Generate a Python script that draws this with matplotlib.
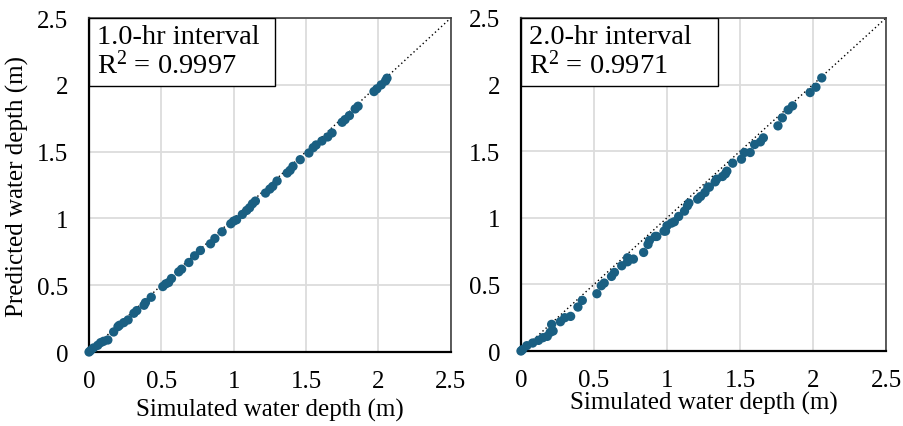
import numpy as np
import matplotlib
matplotlib.use("Agg")
import matplotlib.pyplot as plt
from matplotlib.patches import Rectangle

plt.rcParams['font.family'] = ['Liberation Serif', 'DejaVu Serif']
plt.rcParams['mathtext.fontset'] = 'custom'
plt.rcParams['mathtext.rm'] = 'Liberation Serif'
plt.rcParams['mathtext.it'] = 'Liberation Serif:italic'

# 1.0-hr interval: simulated vs predicted depth (m)
sim_1hr = [0.00, 0.01, 0.03, 0.06, 0.08, 0.10, 0.13, 0.17, 0.20, 0.21, 0.24, 0.27, 0.31,
           0.33, 0.38, 0.39, 0.43, 0.51, 0.53, 0.55, 0.57, 0.62, 0.64, 0.69, 0.73, 0.77,
           0.84, 0.87, 0.92, 0.98, 1.00, 1.02, 1.06, 1.09, 1.11, 1.13, 1.15, 1.22, 1.25,
           1.27, 1.30, 1.37, 1.39, 1.41, 1.46, 1.52, 1.55, 1.57, 1.61, 1.65, 1.68, 1.75,
           1.77, 1.80, 1.84, 1.86, 1.97, 1.99, 2.02, 2.05, 2.06]
pred_1hr = [0.00, 0.01, 0.03, 0.05, 0.07, 0.08, 0.09, 0.15, 0.19, 0.20, 0.22, 0.24, 0.29,
            0.31, 0.35, 0.37, 0.41, 0.49, 0.51, 0.52, 0.55, 0.60, 0.62, 0.67, 0.72, 0.76,
            0.81, 0.85, 0.90, 0.96, 0.98, 0.99, 1.03, 1.06, 1.08, 1.11, 1.13, 1.19, 1.22,
            1.24, 1.28, 1.34, 1.36, 1.39, 1.44, 1.49, 1.53, 1.55, 1.58, 1.61, 1.64, 1.72,
            1.74, 1.77, 1.82, 1.84, 1.95, 1.97, 2.00, 2.03, 2.05]

# 2.0-hr interval
sim_2hr = [0.00, 0.01, 0.04, 0.08, 0.12, 0.15, 0.18, 0.20, 0.21, 0.22, 0.27, 0.30, 0.34,
           0.39, 0.42, 0.52, 0.55, 0.57, 0.62, 0.64, 0.69, 0.73, 0.73, 0.77, 0.84, 0.87,
           0.88, 0.92, 0.93, 0.98, 0.99, 1.00, 1.03, 1.05, 1.08, 1.12, 1.14, 1.15, 1.21,
           1.23, 1.26, 1.28, 1.29, 1.33, 1.34, 1.38, 1.40, 1.41, 1.45, 1.51, 1.53, 1.57,
           1.60, 1.64, 1.66, 1.76, 1.79, 1.83, 1.86, 1.98, 2.02, 2.06]
pred_2hr = [0.00, 0.01, 0.04, 0.06, 0.08, 0.10, 0.11, 0.14, 0.20, 0.15, 0.22, 0.25, 0.26,
            0.33, 0.38, 0.43, 0.49, 0.51, 0.56, 0.59, 0.64, 0.67, 0.70, 0.69, 0.74, 0.80,
            0.83, 0.86, 0.86, 0.90, 0.90, 0.94, 0.96, 0.97, 1.01, 1.05, 1.09, 1.11, 1.14,
            1.16, 1.19, 1.23, 1.23, 1.27, 1.29, 1.31, 1.33, 1.35, 1.41, 1.44, 1.49, 1.49,
            1.55, 1.57, 1.60, 1.69, 1.75, 1.81, 1.84, 1.94, 1.98, 2.05]

panels = [
    (sim_1hr, pred_1hr, "1.0-hr interval", "0.9997"),
    (sim_2hr, pred_2hr, "2.0-hr interval", "0.9971"),
]
ticks = [0, 0.5, 1, 1.5, 2, 2.5]
tick_labels = ["0", "0.5", "1", "1.5", "2", "2.5"]

fig = plt.figure(figsize=(9.04, 4.27), dpi=100)
rects = [[0.0985, 0.1733, 0.400, 0.782], [0.5763, 0.1756, 0.4038, 0.780]]
box_w = [0.514, 0.54]

for i, (x, y, title, r2) in enumerate(panels):
    ax = fig.add_axes(rects[i])
    ax.set_xlim(0, 2.5)
    ax.set_ylim(0, 2.5)
    ax.set_xticks(ticks)
    ax.set_yticks(ticks)
    ax.set_xticklabels(tick_labels)
    ax.set_yticklabels(tick_labels)
    ax.tick_params(length=0, labelsize=18)
    ax.tick_params(axis='x', pad=13)
    ax.tick_params(axis='y', pad=15)
    ax.grid(True, color='#dcdcdc', lw=1.3)
    ax.set_axisbelow(True)
    for s in ['left', 'bottom']:
        ax.spines[s].set_color('black')
        ax.spines[s].set_linewidth(1.6)
    for s in ['top', 'right']:
        ax.spines[s].set_color('#404040')
        ax.spines[s].set_linewidth(1.2)

    ax.plot([0, 2.5], [0, 2.5], ls=(0, (1, 2)), color='black', lw=1.0, zorder=2)
    ax.scatter(x, y, s=45, color='#1A5F82', edgecolors='none', zorder=3, clip_on=False)

    ax.add_patch(Rectangle((0, 1 - 0.204), box_w[i], 0.204, transform=ax.transAxes,
                           facecolor='white', edgecolor='black', lw=1.0, zorder=4))
    ax.text(0.022, 0.945, title, transform=ax.transAxes, fontsize=20.5,
            va='center', ha='left', zorder=5)
    ax.text(0.022, 0.86, r"R$^{2}$ = " + r2, transform=ax.transAxes, fontsize=20.5,
            va='center', ha='left', zorder=5)

    ax.set_xlabel("Simulated water depth (m)", fontsize=18, labelpad=4 if i == 0 else 0)
    if i == 0:
        ax.set_ylabel("Predicted water depth (m)", fontsize=18, labelpad=6)

fig.savefig("out.png", dpi=100)
